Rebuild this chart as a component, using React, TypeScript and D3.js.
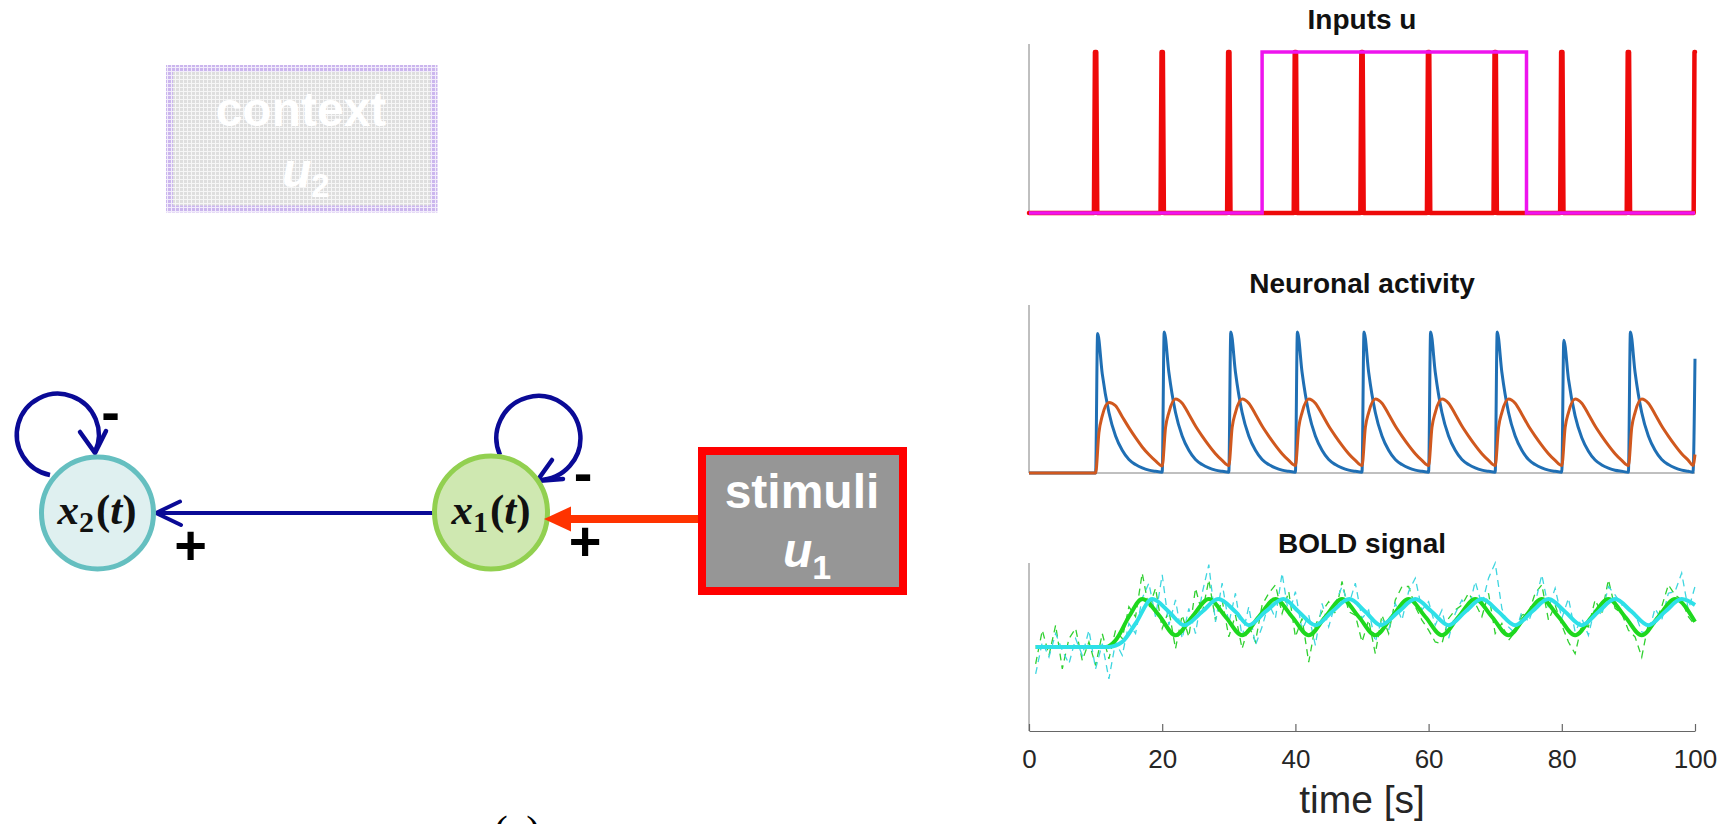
import React, { useEffect, useRef } from 'react';
import * as d3 from 'd3';

// ---------------- data ----------------
const timeTicks = [0, 20, 40, 60, 80, 100];
const stimOnsets = [10, 20, 30, 40, 50, 60, 70, 80, 90, 100];
const contextOn = 35;
const contextOff = 74.7;

const neuronFast: [number, number][] = [
  [0, 0], [10, 0],
  [10.3, 0.83], [11, 0.59], [12, 0.36], [13, 0.22], [14, 0.135], [15, 0.08], [16, 0.05], [17, 0.03], [18, 0.017], [19, 0.01], [20, 0.005],
  [20.3, 0.84], [21, 0.6], [22, 0.36], [23, 0.22], [24, 0.135], [25, 0.08], [26, 0.05], [27, 0.03], [28, 0.017], [29, 0.01], [30, 0.005],
  [30.3, 0.84], [31, 0.6], [32, 0.36], [33, 0.22], [34, 0.135], [35, 0.08], [36, 0.05], [37, 0.03], [38, 0.017], [39, 0.01], [40, 0.005],
  [40.3, 0.84], [41, 0.6], [42, 0.36], [43, 0.22], [44, 0.135], [45, 0.08], [46, 0.05], [47, 0.03], [48, 0.017], [49, 0.01], [50, 0.005],
  [50.3, 0.84], [51, 0.6], [52, 0.36], [53, 0.22], [54, 0.135], [55, 0.08], [56, 0.05], [57, 0.03], [58, 0.017], [59, 0.01], [60, 0.005],
  [60.3, 0.84], [61, 0.6], [62, 0.36], [63, 0.22], [64, 0.135], [65, 0.08], [66, 0.05], [67, 0.03], [68, 0.017], [69, 0.01], [70, 0.005],
  [70.3, 0.84], [71, 0.6], [72, 0.36], [73, 0.22], [74, 0.135], [75, 0.08], [76, 0.05], [77, 0.03], [78, 0.017], [79, 0.01], [80, 0.005],
  [80.3, 0.79], [81, 0.56], [82, 0.34], [83, 0.21], [84, 0.13], [85, 0.077], [86, 0.048], [87, 0.029], [88, 0.016], [89, 0.01], [90, 0.005],
  [90.3, 0.84], [91, 0.6], [92, 0.36], [93, 0.22], [94, 0.135], [95, 0.08], [96, 0.05], [97, 0.03], [98, 0.017], [99, 0.01], [99.7, 0.005],
  [100, 0.68],
];

const neuronSlow: [number, number][] = [
  [0, 0], [10, 0],
  [10.5, 0.24], [11, 0.34], [12, 0.42], [13, 0.4], [14, 0.335], [15, 0.27], [16, 0.21], [17, 0.155], [18, 0.11], [19, 0.072], [20, 0.042],
  [20.5, 0.27], [21, 0.36], [22, 0.44], [23, 0.415], [24, 0.35], [25, 0.28], [26, 0.22], [27, 0.165], [28, 0.115], [29, 0.075], [30, 0.044],
  [30.5, 0.27], [31, 0.36], [32, 0.44], [33, 0.415], [34, 0.35], [35, 0.28], [36, 0.22], [37, 0.165], [38, 0.115], [39, 0.075], [40, 0.044],
  [40.5, 0.27], [41, 0.36], [42, 0.44], [43, 0.415], [44, 0.35], [45, 0.28], [46, 0.22], [47, 0.165], [48, 0.115], [49, 0.075], [50, 0.044],
  [50.5, 0.27], [51, 0.36], [52, 0.44], [53, 0.415], [54, 0.35], [55, 0.28], [56, 0.22], [57, 0.165], [58, 0.115], [59, 0.075], [60, 0.044],
  [60.5, 0.27], [61, 0.36], [62, 0.44], [63, 0.415], [64, 0.35], [65, 0.28], [66, 0.22], [67, 0.165], [68, 0.115], [69, 0.075], [70, 0.044],
  [70.5, 0.27], [71, 0.36], [72, 0.44], [73, 0.415], [74, 0.35], [75, 0.28], [76, 0.22], [77, 0.165], [78, 0.115], [79, 0.075], [80, 0.044],
  [80.5, 0.27], [81, 0.36], [82, 0.44], [83, 0.415], [84, 0.35], [85, 0.28], [86, 0.22], [87, 0.165], [88, 0.115], [89, 0.075], [90, 0.044],
  [90.5, 0.27], [91, 0.36], [92, 0.44], [93, 0.415], [94, 0.35], [95, 0.28], [96, 0.22], [97, 0.165], [98, 0.115], [99, 0.075], [99.7, 0.045],
  [100, 0.11],
];

const boldGreen: [number, number][] = [
  [1, 50], [11.5, 50], [13, 54], [15, 68], [17, 78.5], [19.5, 69], [22, 57], [24.5, 68], [27, 78.5], [29.5, 68],
  [32, 57], [34.5, 68], [37, 78.5], [39.5, 68], [42, 57], [44.5, 68], [47, 78.5], [49.5, 68], [52, 57], [54.5, 68],
  [57, 78.5], [59.5, 68], [62, 57], [64.5, 68], [67, 78.5], [69.5, 68], [72, 57], [74.5, 68], [77, 78.5], [79.5, 68],
  [82, 57], [84.5, 68], [87, 78.5], [89.5, 68], [92, 57], [94.5, 68], [97, 78.5], [100, 65],
];

const boldCyan: [number, number][] = [
  [1, 50], [12, 50], [14, 53], [16, 64], [18.5, 78.5], [21, 71], [23.3, 63], [26, 71], [28.4, 78.5], [31, 71],
  [33, 63], [35.5, 71], [38.2, 78.5], [40.5, 71], [43, 63], [45.5, 71], [48.1, 78.5], [50.5, 71], [52.8, 63], [55.5, 71],
  [58, 78.5], [60.5, 71], [63, 63], [65.5, 71], [68, 78.5], [70.5, 71], [73, 63], [75.5, 71], [78, 78.5], [80.5, 71],
  [83, 63], [85.5, 71], [88, 78.5], [90.5, 71], [93, 63], [95.5, 71], [98, 78.5], [100, 75],
];

const noisyTimes = [
  1, 2, 3, 4, 5, 6, 7, 8, 9, 10, 11, 12, 13, 14, 15, 16, 17, 18, 19, 20,
  21, 22, 23, 24, 25, 26, 27, 28, 29, 30, 31, 32, 33, 34, 35, 36, 37, 38, 39, 40,
  41, 42, 43, 44, 45, 46, 47, 48, 49, 50, 51, 52, 53, 54, 55, 56, 57, 58, 59, 60,
  61, 62, 63, 64, 65, 66, 67, 68, 69, 70, 71, 72, 73, 74, 75, 76, 77, 78, 79, 80,
  81, 82, 83, 84, 85, 86, 87, 88, 89, 90, 91, 92, 93, 94, 95, 96, 97, 98, 99, 100,
];

const boldGreenNoisy = [
  40, 60, 45, 63, 37, 55, 61, 42, 53, 39, 58, 43, 60, 55, 74, 68, 94, 73, 85, 61,
  72, 49, 69, 56, 85, 70, 90, 66, 78, 56, 69, 49, 63, 53, 75, 82, 87, 70, 83, 56,
  67, 41, 63, 71, 77, 70, 89, 71, 69, 53, 66, 46, 69, 58, 78, 86, 86, 74, 66, 60,
  53, 52, 67, 72, 75, 82, 76, 68, 82, 58, 64, 54, 59, 69, 70, 82, 87, 66, 75, 63,
  53, 46, 63, 62, 78, 70, 90, 73, 70, 60, 56, 44, 64, 64, 74, 87, 81, 78, 68, 63,
];

const boldCyanNoisy = [
  34, 53, 44, 58, 48, 40, 55, 45, 60, 37, 52, 31, 53, 45, 64, 58, 79, 88, 68, 93,
  63, 78, 55, 73, 58, 82, 99, 65, 88, 64, 82, 56, 74, 51, 62, 76, 67, 94, 69, 83,
  60, 69, 51, 76, 62, 76, 86, 75, 88, 67, 72, 53, 67, 60, 76, 66, 83, 91, 72, 77,
  63, 72, 55, 70, 78, 72, 89, 75, 91, 100, 73, 62, 58, 71, 65, 76, 93, 73, 85, 67,
  79, 59, 67, 57, 74, 69, 86, 81, 75, 74, 70, 59, 58, 73, 66, 82, 83, 94, 72, 86,
];

// ---------------- layout ----------------
const W = 1733;
const H = 824;
const SANS = '"Liberation Sans", Arial, Helvetica, sans-serif';
const SERIF = '"Liberation Serif", "Times New Roman", serif';
const AXIS_GRAY = '#808080';

export default function App() {
  const axisRef = useRef<SVGGElement>(null);

  const x = d3.scaleLinear().domain([0, 100]).range([1029, 1695]);
  const yIn = d3.scaleLinear().domain([0, 1.05]).range([213, 44]);
  const yNeu = d3.scaleLinear().domain([0, 1]).range([473, 305]);
  const yBold = d3.scaleLinear().domain([0, 100]).range([731, 563]);

  // inputs table built from onsets
  const stimPts: [number, number][] = [[0, 0]];
  stimOnsets.forEach((t) => {
    if (t >= 100) {
      stimPts.push([t - 0.2, 0], [t - 0.08, 1], [t, 1]);
    } else {
      stimPts.push([t - 0.25, 0], [t - 0.1, 1], [t + 0.1, 1], [t + 0.25, 0]);
    }
  });
  const ctxPts: [number, number][] = [[0, 0], [contextOn, 0], [contextOn, 1], [contextOff, 1], [contextOff, 0], [100, 0]];

  const lineIn = d3.line<[number, number]>().x((d) => x(d[0])).y((d) => yIn(d[1]));
  const lineNeu = d3.line<[number, number]>().x((d) => x(d[0])).y((d) => yNeu(d[1])).curve(d3.curveMonotoneX);
  const lineBold = d3.line<[number, number]>().x((d) => x(d[0])).y((d) => yBold(d[1])).curve(d3.curveMonotoneX);
  const lineNoisy = d3.line<number>().x((_, i) => x(noisyTimes[i])).y((d) => yBold(d));

  useEffect(() => {
    document.body.style.margin = '0';
    if (!axisRef.current) return;
    const g = d3.select(axisRef.current);
    g.selectAll('*').remove();
    g.call(
      d3.axisBottom(x).tickValues(timeTicks).tickSizeInner(-7).tickSizeOuter(0).tickPadding(19).tickFormat(d3.format('d'))
    );
    g.select('.domain').attr('stroke', '#666').attr('stroke-width', 1.2);
    g.selectAll('.tick line').attr('stroke', '#666').attr('stroke-width', 1.2);
    g.selectAll('.tick text')
      .attr('font-family', SANS)
      .attr('font-size', 26)
      .attr('fill', '#262626');
  }, []);

  const titleStyle = { fontFamily: SANS, fontWeight: 700, fontSize: 28, fill: '#111' } as const;
  const signStyle = { fontFamily: SANS, fontWeight: 700, fontSize: 56, fill: '#000' } as const;
  const navy = '#0a0a96';

  return (
    <svg width={W} height={H} viewBox={`0 0 ${W} ${H}`} style={{ position: 'absolute', left: 0, top: 0, display: 'block', background: '#fff' }}>
      <defs>
        <pattern id="meshGray" width="4" height="4" patternUnits="userSpaceOnUse">
          <rect width="4" height="4" fill="#f6f6f6" />
          <rect width="3" height="3" fill="#dedede" />
        </pattern>
        <pattern id="meshPurple" width="4" height="4" patternUnits="userSpaceOnUse">
          <rect width="4" height="4" fill="#f2ecfb" />
          <rect width="3" height="3" fill="#cbb6ee" />
        </pattern>
      </defs>
      <rect width={W} height={H} fill="#fff" />

      {/* ---------- left diagram ---------- */}
      <rect x={169.5} y={68.5} width={264.5} height={140.5} fill="url(#meshGray)" stroke="url(#meshPurple)" strokeWidth={7} />
      <text x={301} y={126} textAnchor="middle" fontFamily={SANS} fontWeight={700} fontSize={48} fill="#fff">context</text>
      <text x={282} y={187} fontFamily={SANS} fontWeight={700} fontSize={48} fill="#fff">
        <tspan fontStyle="italic">u</tspan>
        <tspan fontSize={33} dy={10}>2</tspan>
      </text>

      {/* x1 -> x2 arrow */}
      <line x1={433} y1={513} x2={157} y2={513} stroke={navy} strokeWidth={4} />
      <polyline points="180,501.5 156,513 181,525" fill="none" stroke={navy} strokeWidth={4} strokeLinecap="round" strokeLinejoin="round" />

      {/* self loops */}
      <path d="M 50 475 A 41 41 0 1 1 95 452" fill="none" stroke={navy} strokeWidth={4.5} />
      <polyline points="80,432 95,453 106,431" fill="none" stroke={navy} strokeWidth={4.5} strokeLinecap="round" strokeLinejoin="round" />
      <path d="M 500 455 A 42 42 0 1 1 538 480" fill="none" stroke={navy} strokeWidth={4.5} />
      <polyline points="552,460 537,481 563,479" fill="none" stroke={navy} strokeWidth={4.5} strokeLinecap="round" strokeLinejoin="round" />

      {/* circles */}
      <circle cx={97.5} cy={513} r={56} fill="#dff0f0" stroke="#65bfc0" strokeWidth={5} />
      <circle cx={491} cy={512.5} r={56.5} fill="#cfe8b1" stroke="#92d050" strokeWidth={5} />
      <text x={97} y={524} textAnchor="middle" fontFamily={SERIF} fontWeight={700} fontSize={43} fill="#111">
        <tspan fontStyle="italic">x</tspan>
        <tspan fontSize={30} dy={8}>2</tspan>
        <tspan dy={-8} dx={2}>(</tspan>
        <tspan fontStyle="italic">t</tspan>
        <tspan>)</tspan>
      </text>
      <text x={491} y={524} textAnchor="middle" fontFamily={SERIF} fontWeight={700} fontSize={43} fill="#111">
        <tspan fontStyle="italic">x</tspan>
        <tspan fontSize={30} dy={8}>1</tspan>
        <tspan dy={-8} dx={2}>(</tspan>
        <tspan fontStyle="italic">t</tspan>
        <tspan>)</tspan>
      </text>

      {/* stimuli arrow */}
      <line x1={700} y1={519} x2={566} y2={519} stroke="#ff3300" strokeWidth={8} />
      <polygon points="544,519 571,506.5 571,531.5" fill="#ff3300" />

      {/* signs */}
      <text x={110.5} y={431} textAnchor="middle" style={signStyle}>-</text>
      <text x={190.5} y={564} textAnchor="middle" style={signStyle}>+</text>
      <text x={583} y={492} textAnchor="middle" style={signStyle}>-</text>
      <text x={585} y={560} textAnchor="middle" style={signStyle}>+</text>

      {/* stimuli box */}
      <rect x={702} y={451} width={201} height={140} fill="#969696" stroke="#ff0000" strokeWidth={8} />
      <text x={802} y={508} textAnchor="middle" fontFamily={SANS} fontWeight={700} fontSize={48} fill="#fff">stimuli</text>
      <text x={783} y={567} fontFamily={SANS} fontWeight={700} fontSize={48} fill="#fff">
        <tspan fontStyle="italic">u</tspan>
        <tspan fontSize={34} dy={12}>1</tspan>
      </text>

      <text x={517} y={845} textAnchor="middle" fontFamily={SERIF} fontSize={42} fill="#000">(a)</text>

      {/* ---------- Inputs u ---------- */}
      <text x={x(50)} y={29} textAnchor="middle" style={titleStyle}>Inputs u</text>
      <line x1={x(0)} y1={yIn(1.05)} x2={x(0)} y2={yIn(0)} stroke={AXIS_GRAY} strokeWidth={1} />
      <line x1={x(0)} y1={yIn(0)} x2={x(100)} y2={yIn(0)} stroke={AXIS_GRAY} strokeWidth={1} />
      <path d={lineIn(stimPts) ?? ''} fill="none" stroke="#ee0a0a" strokeWidth={4.5} strokeLinejoin="round" strokeLinecap="round" />
      <path d={lineIn(ctxPts) ?? ''} fill="none" stroke="#ee14ee" strokeWidth={3.5} strokeLinejoin="miter" />

      {/* ---------- Neuronal activity ---------- */}
      <text x={x(50)} y={293} textAnchor="middle" style={titleStyle}>Neuronal activity</text>
      <line x1={x(0)} y1={yNeu(1)} x2={x(0)} y2={yNeu(0)} stroke={AXIS_GRAY} strokeWidth={1} />
      <line x1={x(0)} y1={yNeu(0)} x2={x(100)} y2={yNeu(0)} stroke={AXIS_GRAY} strokeWidth={1} />
      <path d={lineNeu(neuronFast) ?? ''} fill="none" stroke="#1f6fb4" strokeWidth={3} strokeLinejoin="round" />
      <path d={lineNeu(neuronSlow) ?? ''} fill="none" stroke="#d0581e" strokeWidth={3} strokeLinejoin="round" />

      {/* ---------- BOLD signal ---------- */}
      <text x={x(50)} y={553} textAnchor="middle" style={titleStyle}>BOLD signal</text>
      <line x1={x(0)} y1={yBold(100)} x2={x(0)} y2={yBold(0)} stroke={AXIS_GRAY} strokeWidth={1} />
      <path d={lineNoisy(boldGreenNoisy) ?? ''} fill="none" stroke="#2fd02f" strokeWidth={1.3} strokeDasharray="7,5" />
      <path d={lineNoisy(boldCyanNoisy) ?? ''} fill="none" stroke="#3fd6e0" strokeWidth={1.3} strokeDasharray="7,5" />
      <path d={lineBold(boldGreen) ?? ''} fill="none" stroke="#1ed81e" strokeWidth={4} strokeLinejoin="round" />
      <path d={lineBold(boldCyan) ?? ''} fill="none" stroke="#2ee0e8" strokeWidth={4} strokeLinejoin="round" />
      <g ref={axisRef} transform={`translate(0,${yBold(0)})`} />
      <text x={x(50)} y={813} textAnchor="middle" fontFamily={SANS} fontSize={39} fill="#262626">time [s]</text>
    </svg>
  );
}
